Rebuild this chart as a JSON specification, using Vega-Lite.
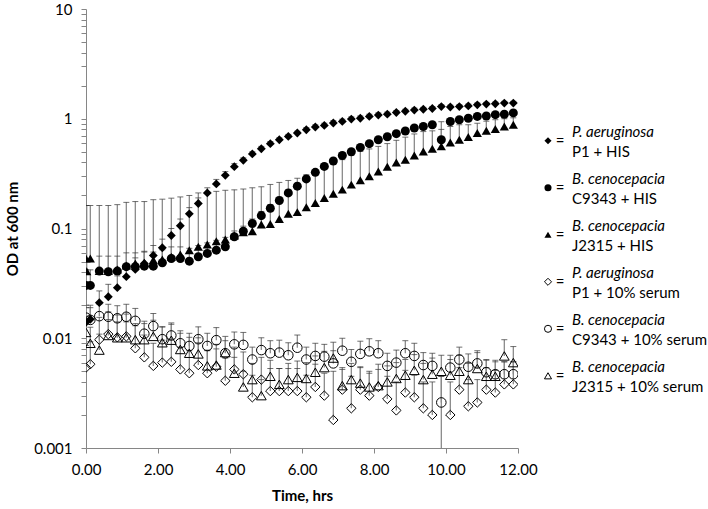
{
"$schema": "https://vega.github.io/schema/vega-lite/v6.json",
"padding": {"left": 5, "top": 2, "right": 0, "bottom": 2},
"config": {"font": "Lato", "view": {"stroke": null}, "concat": {"spacing": 4}},
"datasets": {
"d": [
{"s":"P1H","t":0,"v":0.014,"hi":0.019},{"s":"P1H","t":0.12,"v":0.0149,"hi":0.020},{"s":"P1H","t":0.37,"v":0.0211,"hi":0.027},{"s":"P1H","t":0.62,"v":0.0239,"hi":0.031},{"s":"P1H","t":0.87,"v":0.0289,"hi":0.037},{"s":"P1H","t":1.12,"v":0.0364,"hi":0.047},{"s":"P1H","t":1.37,"v":0.0424,"hi":0.054},{"s":"P1H","t":1.62,"v":0.0481,"hi":0.062},{"s":"P1H","t":1.87,"v":0.0569,"hi":0.070},{"s":"P1H","t":2.12,"v":0.0668,"hi":0.080},{"s":"P1H","t":2.37,"v":0.0863,"hi":0.100},{"s":"P1H","t":2.62,"v":0.106,"hi":0.122},{"s":"P1H","t":2.87,"v":0.136,"hi":0.155},{"s":"P1H","t":3.12,"v":0.169,"hi":0.19},{"s":"P1H","t":3.37,"v":0.211,"hi":0.235},{"s":"P1H","t":3.62,"v":0.255,"hi":0.28},{"s":"P1H","t":3.87,"v":0.305,"hi":0.33},{"s":"P1H","t":4.12,"v":0.366,"hi":0.39},{"s":"P1H","t":4.37,"v":0.418,"hi":0.44},{"s":"P1H","t":4.62,"v":0.478,"hi":0.50},{"s":"P1H","t":4.87,"v":0.533,"hi":0.56},{"s":"P1H","t":5.12,"v":0.593,"hi":0.62},{"s":"P1H","t":5.37,"v":0.644,"hi":0.67},{"s":"P1H","t":5.62,"v":0.690,"hi":0.72},{"s":"P1H","t":5.87,"v":0.741,"hi":0.77},{"s":"P1H","t":6.12,"v":0.794,"hi":0.83},{"s":"P1H","t":6.37,"v":0.841,"hi":0.88},{"s":"P1H","t":6.62,"v":0.869,"hi":0.91},{"s":"P1H","t":6.87,"v":0.914,"hi":0.96},{"s":"P1H","t":7.12,"v":0.945,"hi":0.99},{"s":"P1H","t":7.37,"v":0.993,"hi":1.04},{"s":"P1H","t":7.62,"v":1.01,"hi":1.06},{"s":"P1H","t":7.87,"v":1.05,"hi":1.10},{"s":"P1H","t":8.12,"v":1.08,"hi":1.13},{"s":"P1H","t":8.37,"v":1.10,"hi":1.15},{"s":"P1H","t":8.62,"v":1.14,"hi":1.19},{"s":"P1H","t":8.87,"v":1.17,"hi":1.22},{"s":"P1H","t":9.12,"v":1.20,"hi":1.25},{"s":"P1H","t":9.37,"v":1.22,"hi":1.27},{"s":"P1H","t":9.62,"v":1.24,"hi":1.29},{"s":"P1H","t":9.87,"v":1.29,"hi":1.34},{"s":"P1H","t":10.12,"v":1.28,"hi":1.33},{"s":"P1H","t":10.37,"v":1.29,"hi":1.34},{"s":"P1H","t":10.62,"v":1.31,"hi":1.36},{"s":"P1H","t":10.87,"v":1.34,"hi":1.39},{"s":"P1H","t":11.12,"v":1.36,"hi":1.41},{"s":"P1H","t":11.37,"v":1.37,"hi":1.42},{"s":"P1H","t":11.62,"v":1.39,"hi":1.44},{"s":"P1H","t":11.87,"v":1.39,"hi":1.44},
{"s":"C9H","t":0,"v":0.0303,"hi":0.042},{"s":"C9H","t":0.12,"v":0.0303,"hi":0.042},{"s":"C9H","t":0.37,"v":0.0409,"hi":0.056},{"s":"C9H","t":0.62,"v":0.0404,"hi":0.056},{"s":"C9H","t":0.87,"v":0.0409,"hi":0.056},{"s":"C9H","t":1.12,"v":0.0449,"hi":0.060},{"s":"C9H","t":1.37,"v":0.0449,"hi":0.060},{"s":"C9H","t":1.62,"v":0.0454,"hi":0.061},{"s":"C9H","t":1.87,"v":0.0454,"hi":0.061},{"s":"C9H","t":2.12,"v":0.0487,"hi":0.064},{"s":"C9H","t":2.37,"v":0.0533,"hi":0.068},{"s":"C9H","t":2.62,"v":0.0533,"hi":0.068},{"s":"C9H","t":2.87,"v":0.0504,"hi":0.066},{"s":"C9H","t":3.12,"v":0.0553,"hi":0.070},{"s":"C9H","t":3.37,"v":0.0593,"hi":0.074},{"s":"C9H","t":3.62,"v":0.0635,"hi":0.078},{"s":"C9H","t":3.87,"v":0.0682,"hi":0.083},{"s":"C9H","t":4.12,"v":0.0841,"hi":0.095},{"s":"C9H","t":4.37,"v":0.0945,"hi":0.105},{"s":"C9H","t":4.62,"v":0.111,"hi":0.122},{"s":"C9H","t":4.87,"v":0.131,"hi":0.143},{"s":"C9H","t":5.12,"v":0.153,"hi":0.165},{"s":"C9H","t":5.37,"v":0.180,"hi":0.193},{"s":"C9H","t":5.62,"v":0.211,"hi":0.225},{"s":"C9H","t":5.87,"v":0.243,"hi":0.258},{"s":"C9H","t":6.12,"v":0.283,"hi":0.30},{"s":"C9H","t":6.37,"v":0.325,"hi":0.34},{"s":"C9H","t":6.62,"v":0.368,"hi":0.385},{"s":"C9H","t":6.87,"v":0.412,"hi":0.43},{"s":"C9H","t":7.12,"v":0.463,"hi":0.48},{"s":"C9H","t":7.37,"v":0.501,"hi":0.52},{"s":"C9H","t":7.62,"v":0.548,"hi":0.57},{"s":"C9H","t":7.87,"v":0.593,"hi":0.615},{"s":"C9H","t":8.12,"v":0.644,"hi":0.665},{"s":"C9H","t":8.37,"v":0.686,"hi":0.71},{"s":"C9H","t":8.62,"v":0.731,"hi":0.755},{"s":"C9H","t":8.87,"v":0.773,"hi":0.80},{"s":"C9H","t":9.12,"v":0.823,"hi":0.85},{"s":"C9H","t":9.37,"v":0.851,"hi":0.88},{"s":"C9H","t":9.62,"v":0.882,"hi":0.91},{"s":"C9H","t":9.87,"v":0.644,"hi":0.94},{"s":"C9H","t":10.12,"v":0.945,"hi":0.975},{"s":"C9H","t":10.37,"v":0.979,"hi":1.01},{"s":"C9H","t":10.62,"v":1.01,"hi":1.04},{"s":"C9H","t":10.87,"v":1.05,"hi":1.08},{"s":"C9H","t":11.12,"v":1.06,"hi":1.09},{"s":"C9H","t":11.37,"v":1.09,"hi":1.12},{"s":"C9H","t":11.62,"v":1.10,"hi":1.13},{"s":"C9H","t":11.87,"v":1.13,"hi":1.16},
{"s":"J2H","t":0,"v":0.0533,"hi":0.162},{"s":"J2H","t":0.02,"v":0.0408,"hi":0.162},{"s":"J2H","t":0.12,"v":0.0533,"hi":0.162},{"s":"J2H","t":0.37,"v":0.0409,"hi":0.162},{"s":"J2H","t":0.62,"v":0.0409,"hi":0.162},{"s":"J2H","t":0.87,"v":0.0424,"hi":0.165},{"s":"J2H","t":1.12,"v":0.0461,"hi":0.173},{"s":"J2H","t":1.37,"v":0.0481,"hi":0.176},{"s":"J2H","t":1.62,"v":0.0488,"hi":0.176},{"s":"J2H","t":1.87,"v":0.0515,"hi":0.183},{"s":"J2H","t":2.12,"v":0.0523,"hi":0.185},{"s":"J2H","t":2.37,"v":0.0553,"hi":0.189},{"s":"J2H","t":2.62,"v":0.0580,"hi":0.194},{"s":"J2H","t":2.87,"v":0.0635,"hi":0.200},{"s":"J2H","t":3.12,"v":0.0682,"hi":0.211},{"s":"J2H","t":3.37,"v":0.0716,"hi":0.214},{"s":"J2H","t":3.62,"v":0.0767,"hi":0.218},{"s":"J2H","t":3.87,"v":0.0794,"hi":0.223},{"s":"J2H","t":4.12,"v":0.0863,"hi":0.225},{"s":"J2H","t":4.37,"v":0.0925,"hi":0.229},{"s":"J2H","t":4.62,"v":0.0945,"hi":0.235},{"s":"J2H","t":4.87,"v":0.109,"hi":0.240},{"s":"J2H","t":5.12,"v":0.110,"hi":0.252},{"s":"J2H","t":5.37,"v":0.122,"hi":0.263},{"s":"J2H","t":5.62,"v":0.136,"hi":0.274},{"s":"J2H","t":5.87,"v":0.141,"hi":0.287},{"s":"J2H","t":6.12,"v":0.156,"hi":0.309},{"s":"J2H","t":6.37,"v":0.171,"hi":0.338},{"s":"J2H","t":6.62,"v":0.190,"hi":0.355},{"s":"J2H","t":6.87,"v":0.207,"hi":0.39},{"s":"J2H","t":7.12,"v":0.226,"hi":0.424},{"s":"J2H","t":7.37,"v":0.251,"hi":0.464},{"s":"J2H","t":7.62,"v":0.275,"hi":0.503},{"s":"J2H","t":7.87,"v":0.299,"hi":0.531},{"s":"J2H","t":8.12,"v":0.330,"hi":0.56},{"s":"J2H","t":8.37,"v":0.365,"hi":0.594},{"s":"J2H","t":8.62,"v":0.400,"hi":0.636},{"s":"J2H","t":8.87,"v":0.424,"hi":0.68},{"s":"J2H","t":9.12,"v":0.463,"hi":0.727},{"s":"J2H","t":9.37,"v":0.504,"hi":0.764},{"s":"J2H","t":9.62,"v":0.533,"hi":0.776},{"s":"J2H","t":9.87,"v":0.560,"hi":0.80},{"s":"J2H","t":10.12,"v":0.609,"hi":0.85},{"s":"J2H","t":10.37,"v":0.644,"hi":0.882},{"s":"J2H","t":10.62,"v":0.682,"hi":0.882},{"s":"J2H","t":10.87,"v":0.741,"hi":0.91},{"s":"J2H","t":11.12,"v":0.778,"hi":0.95},{"s":"J2H","t":11.37,"v":0.806,"hi":0.98},{"s":"J2H","t":11.62,"v":0.851,"hi":1.0},{"s":"J2H","t":11.87,"v":0.882,"hi":1.02},
{"s":"P1S","t":0,"v":0.0054,"hi":0.0086},{"s":"P1S","t":0.12,"v":0.0058,"hi":0.0093},{"s":"P1S","t":0.37,"v":0.0097,"hi":0.0155},{"s":"P1S","t":0.62,"v":0.0109,"hi":0.0174},{"s":"P1S","t":0.87,"v":0.0102,"hi":0.0163},{"s":"P1S","t":1.12,"v":0.0104,"hi":0.0166},{"s":"P1S","t":1.37,"v":0.0081,"hi":0.0130},{"s":"P1S","t":1.62,"v":0.0067,"hi":0.0107},{"s":"P1S","t":1.87,"v":0.0056,"hi":0.0090},{"s":"P1S","t":2.12,"v":0.0060,"hi":0.0096},{"s":"P1S","t":2.37,"v":0.0061,"hi":0.0098},{"s":"P1S","t":2.62,"v":0.0052,"hi":0.0083},{"s":"P1S","t":2.87,"v":0.0048,"hi":0.0077},{"s":"P1S","t":3.12,"v":0.0057,"hi":0.0091},{"s":"P1S","t":3.37,"v":0.0048,"hi":0.0077},{"s":"P1S","t":3.62,"v":0.0055,"hi":0.0088},{"s":"P1S","t":3.87,"v":0.0041,"hi":0.0066},{"s":"P1S","t":4.12,"v":0.0052,"hi":0.0083},{"s":"P1S","t":4.37,"v":0.0047,"hi":0.0075},{"s":"P1S","t":4.62,"v":0.0029,"hi":0.0046},{"s":"P1S","t":4.87,"v":0.0042,"hi":0.0067},{"s":"P1S","t":5.12,"v":0.0033,"hi":0.0053},{"s":"P1S","t":5.37,"v":0.0033,"hi":0.0053},{"s":"P1S","t":5.62,"v":0.0033,"hi":0.0053},{"s":"P1S","t":5.87,"v":0.0033,"hi":0.0053},{"s":"P1S","t":6.12,"v":0.0029,"hi":0.0046},{"s":"P1S","t":6.37,"v":0.0036,"hi":0.0058},{"s":"P1S","t":6.62,"v":0.0030,"hi":0.0048},{"s":"P1S","t":6.87,"v":0.0018,"hi":0.0050},{"s":"P1S","t":7.12,"v":0.0034,"hi":0.0054},{"s":"P1S","t":7.37,"v":0.0023,"hi":0.0045},{"s":"P1S","t":7.62,"v":0.0034,"hi":0.0054},{"s":"P1S","t":7.87,"v":0.0030,"hi":0.0048},{"s":"P1S","t":8.12,"v":0.0036,"hi":0.0058},{"s":"P1S","t":8.37,"v":0.0028,"hi":0.0045},{"s":"P1S","t":8.62,"v":0.0022,"hi":0.0040},{"s":"P1S","t":8.87,"v":0.0032,"hi":0.0051},{"s":"P1S","t":9.12,"v":0.0029,"hi":0.0046},{"s":"P1S","t":9.37,"v":0.0023,"hi":0.0040},{"s":"P1S","t":9.62,"v":0.0020,"hi":0.0040},{"s":"P1S","t":9.87,"v":0.0008,"hi":0.0045},{"s":"P1S","t":10.12,"v":0.0020,"hi":0.0040},{"s":"P1S","t":10.37,"v":0.0034,"hi":0.0054},{"s":"P1S","t":10.62,"v":0.0024,"hi":0.0042},{"s":"P1S","t":10.87,"v":0.0026,"hi":0.0042},{"s":"P1S","t":11.12,"v":0.0034,"hi":0.0054},{"s":"P1S","t":11.37,"v":0.0032,"hi":0.0051},{"s":"P1S","t":11.62,"v":0.0038,"hi":0.0061},{"s":"P1S","t":11.87,"v":0.0038,"hi":0.0061},
{"s":"C9S","t":0,"v":0.0154,"hi":0.020},{"s":"C9S","t":0.12,"v":0.0147,"hi":0.019},{"s":"C9S","t":0.37,"v":0.0159,"hi":0.0205},{"s":"C9S","t":0.62,"v":0.0157,"hi":0.0204},{"s":"C9S","t":0.87,"v":0.0152,"hi":0.0198},{"s":"C9S","t":1.12,"v":0.0157,"hi":0.0204},{"s":"C9S","t":1.37,"v":0.0144,"hi":0.0187},{"s":"C9S","t":1.62,"v":0.0110,"hi":0.0143},{"s":"C9S","t":1.87,"v":0.0129,"hi":0.0168},{"s":"C9S","t":2.12,"v":0.0098,"hi":0.0127},{"s":"C9S","t":2.37,"v":0.0106,"hi":0.0138},{"s":"C9S","t":2.62,"v":0.0090,"hi":0.0117},{"s":"C9S","t":2.87,"v":0.0085,"hi":0.0111},{"s":"C9S","t":3.12,"v":0.0098,"hi":0.0127},{"s":"C9S","t":3.37,"v":0.0085,"hi":0.0111},{"s":"C9S","t":3.62,"v":0.0096,"hi":0.0125},{"s":"C9S","t":3.87,"v":0.0073,"hi":0.0095},{"s":"C9S","t":4.12,"v":0.0088,"hi":0.0114},{"s":"C9S","t":4.37,"v":0.0087,"hi":0.0113},{"s":"C9S","t":4.62,"v":0.0064,"hi":0.0083},{"s":"C9S","t":4.87,"v":0.0078,"hi":0.0101},{"s":"C9S","t":5.12,"v":0.0073,"hi":0.0095},{"s":"C9S","t":5.37,"v":0.0074,"hi":0.0096},{"s":"C9S","t":5.62,"v":0.0070,"hi":0.0091},{"s":"C9S","t":5.87,"v":0.0082,"hi":0.0107},{"s":"C9S","t":6.12,"v":0.0064,"hi":0.0083},{"s":"C9S","t":6.37,"v":0.0069,"hi":0.0090},{"s":"C9S","t":6.62,"v":0.0068,"hi":0.0088},{"s":"C9S","t":6.87,"v":0.0059,"hi":0.0077},{"s":"C9S","t":7.12,"v":0.0077,"hi":0.0100},{"s":"C9S","t":7.37,"v":0.0061,"hi":0.0079},{"s":"C9S","t":7.62,"v":0.0072,"hi":0.0094},{"s":"C9S","t":7.87,"v":0.0076,"hi":0.0099},{"s":"C9S","t":8.12,"v":0.0073,"hi":0.0095},{"s":"C9S","t":8.37,"v":0.0056,"hi":0.0073},{"s":"C9S","t":8.62,"v":0.0060,"hi":0.0078},{"s":"C9S","t":8.87,"v":0.0073,"hi":0.0095},{"s":"C9S","t":9.12,"v":0.0069,"hi":0.0090},{"s":"C9S","t":9.37,"v":0.0057,"hi":0.0074},{"s":"C9S","t":9.62,"v":0.0056,"hi":0.0073},{"s":"C9S","t":9.87,"v":0.0026,"hi":0.0045},{"s":"C9S","t":10.12,"v":0.0054,"hi":0.0070},{"s":"C9S","t":10.37,"v":0.0064,"hi":0.0083},{"s":"C9S","t":10.62,"v":0.0055,"hi":0.0072},{"s":"C9S","t":10.87,"v":0.0059,"hi":0.0077},{"s":"C9S","t":11.12,"v":0.0049,"hi":0.0064},{"s":"C9S","t":11.37,"v":0.0047,"hi":0.0061},{"s":"C9S","t":11.62,"v":0.0047,"hi":0.0061},{"s":"C9S","t":11.87,"v":0.0047,"hi":0.0061},
{"s":"J2S","t":0,"v":0.0113,"hi":0.0158},{"s":"J2S","t":0.12,"v":0.0090,"hi":0.0126},{"s":"J2S","t":0.37,"v":0.0078,"hi":0.0109},{"s":"J2S","t":0.62,"v":0.0106,"hi":0.0148},{"s":"J2S","t":0.87,"v":0.0101,"hi":0.0141},{"s":"J2S","t":1.12,"v":0.0101,"hi":0.0141},{"s":"J2S","t":1.37,"v":0.0097,"hi":0.0136},{"s":"J2S","t":1.62,"v":0.0097,"hi":0.0136},{"s":"J2S","t":1.87,"v":0.0104,"hi":0.0146},{"s":"J2S","t":2.12,"v":0.0091,"hi":0.0127},{"s":"J2S","t":2.37,"v":0.0096,"hi":0.0134},{"s":"J2S","t":2.62,"v":0.0079,"hi":0.0111},{"s":"J2S","t":2.87,"v":0.0073,"hi":0.0102},{"s":"J2S","t":3.12,"v":0.0072,"hi":0.0101},{"s":"J2S","t":3.37,"v":0.0056,"hi":0.0078},{"s":"J2S","t":3.62,"v":0.0057,"hi":0.0080},{"s":"J2S","t":3.87,"v":0.0074,"hi":0.0104},{"s":"J2S","t":4.12,"v":0.0048,"hi":0.0067},{"s":"J2S","t":4.37,"v":0.0036,"hi":0.0050},{"s":"J2S","t":4.62,"v":0.0042,"hi":0.0059},{"s":"J2S","t":4.87,"v":0.0030,"hi":0.0042},{"s":"J2S","t":5.12,"v":0.0045,"hi":0.0063},{"s":"J2S","t":5.37,"v":0.0038,"hi":0.0053},{"s":"J2S","t":5.62,"v":0.0042,"hi":0.0059},{"s":"J2S","t":5.87,"v":0.0044,"hi":0.0062},{"s":"J2S","t":6.12,"v":0.0043,"hi":0.0060},{"s":"J2S","t":6.37,"v":0.0049,"hi":0.0069},{"s":"J2S","t":6.62,"v":0.0054,"hi":0.0076},{"s":"J2S","t":6.87,"v":0.0066,"hi":0.0092},{"s":"J2S","t":7.12,"v":0.0037,"hi":0.0052},{"s":"J2S","t":7.37,"v":0.0042,"hi":0.0059},{"s":"J2S","t":7.62,"v":0.0039,"hi":0.0055},{"s":"J2S","t":7.87,"v":0.0036,"hi":0.0050},{"s":"J2S","t":8.12,"v":0.0037,"hi":0.0052},{"s":"J2S","t":8.37,"v":0.0040,"hi":0.0056},{"s":"J2S","t":8.62,"v":0.0043,"hi":0.0060},{"s":"J2S","t":8.87,"v":0.0046,"hi":0.0064},{"s":"J2S","t":9.12,"v":0.0051,"hi":0.0071},{"s":"J2S","t":9.37,"v":0.0042,"hi":0.0059},{"s":"J2S","t":9.62,"v":0.0047,"hi":0.0066},{"s":"J2S","t":9.87,"v":0.0050,"hi":0.0070},{"s":"J2S","t":10.12,"v":0.0046,"hi":0.0064},{"s":"J2S","t":10.37,"v":0.0050,"hi":0.0070},{"s":"J2S","t":10.62,"v":0.0042,"hi":0.0059},{"s":"J2S","t":10.87,"v":0.0053,"hi":0.0074},{"s":"J2S","t":11.12,"v":0.0045,"hi":0.0063},{"s":"J2S","t":11.37,"v":0.0045,"hi":0.0063},{"s":"J2S","t":11.62,"v":0.0069,"hi":0.0097},{"s":"J2S","t":11.87,"v":0.0060,"hi":0.0084}
],
"leg": [
{"s":"P1H","l1":"P. aeruginosa","l2":"P1 + HIS"},
{"s":"C9H","l1":"B. cenocepacia","l2":"C9343 + HIS"},
{"s":"J2H","l1":"B. cenocepacia","l2":"J2315 + HIS"},
{"s":"P1S","l1":"P. aeruginosa","l2":"P1 + 10% serum"},
{"s":"C9S","l1":"B. cenocepacia","l2":"C9343 + 10% serum"},
{"s":"J2S","l1":"B. cenocepacia","l2":"J2315 + 10% serum"}
]
},
"hconcat": [
{
"width": 432, "height": 439,
"data": {"name": "d"},
"layer": [
{"mark": {"type": "rule", "color": "#8a8a8a", "strokeWidth": 1.3, "clip": true},
 "encoding": {
  "x": {"field": "t", "type": "quantitative", "scale": {"domain": [0, 12], "nice": false},
   "axis": {"values": [0,2,4,6,8,10,12], "format": ".2f", "title": "Time, hrs", "grid": false, "tickSize": 5, "labelPadding": 9, "labelFontSize": 15, "labelColor": "#000", "labelFlush": false, "titleFontSize": 15, "titleFontWeight": "bold", "titleColor": "#000", "titlePadding": 11, "domainColor": "#868686", "tickColor": "#868686"}},
  "y": {"field": "v", "type": "quantitative", "scale": {"type": "log", "domain": [0.001, 10], "nice": false},
   "axis": {"values": [0.001,0.002,0.003,0.004,0.005,0.006,0.007,0.008,0.009,0.01,0.02,0.03,0.04,0.05,0.06,0.07,0.08,0.09,0.1,0.2,0.3,0.4,0.5,0.6,0.7,0.8,0.9,1,2,3,4,5,6,7,8,9,10],
    "labelExpr": "indexof([0.001,0.01,0.1,1,10], datum.value) >= 0 ? format(datum.value, '~g') : ''",
    "title": "OD at 600 nm", "grid": false, "tickSize": 5, "labelPadding": 9, "labelFontSize": 15, "labelColor": "#000", "labelFlush": false, "labelOverlap": false, "titleFontSize": 15, "titleFontWeight": "bold", "titleColor": "#000", "titlePadding": 13, "domainColor": "#868686", "tickColor": "#868686"}},
  "y2": {"field": "hi"}
 }},
{"mark": {"type": "tick", "orient": "horizontal", "color": "#333333", "size": 6, "thickness": 1, "clip": true},
 "encoding": {
  "x": {"field": "t", "type": "quantitative"},
  "y": {"field": "hi", "type": "quantitative", "title": "OD at 600 nm"}
 }},
{"transform": [{"filter": {"field": "s", "oneOf": ["P1H", "C9H", "J2H"]}}],
 "mark": {"type": "point", "filled": true, "color": "#000000", "opacity": 1, "clip": true},
 "encoding": {
  "x": {"field": "t", "type": "quantitative"},
  "y": {"field": "v", "type": "quantitative", "title": "OD at 600 nm"},
  "shape": {"field": "s", "type": "nominal", "scale": {"domain": ["P1H","C9H","J2H","P1S","C9S","J2S"], "range": ["diamond","circle","triangle-up","diamond","circle","triangle-up"]}, "legend": null},
  "size": {"field": "s", "type": "ordinal", "scale": {"domain": ["P1H","C9H","J2H","P1S","C9S","J2S"], "range": [78, 95, 100, 105, 120, 110]}, "legend": null}
 }},
{"transform": [{"filter": {"field": "s", "oneOf": ["P1S", "C9S", "J2S"]}}],
 "mark": {"type": "point", "filled": false, "color": "#000000", "strokeWidth": 1, "opacity": 1, "clip": true},
 "encoding": {
  "x": {"field": "t", "type": "quantitative"},
  "y": {"field": "v", "type": "quantitative", "title": "OD at 600 nm"},
  "shape": {"field": "s", "type": "nominal", "legend": null},
  "size": {"field": "s", "type": "ordinal", "legend": null}
 }}
]
},
{
"width": 160, "height": 439,
"data": {"name": "leg"},
"encoding": {
 "y": {"field": "s", "type": "nominal", "scale": {"type": "point", "domain": ["_a", "_b", "P1H", "C9H", "J2H", "P1S", "C9S", "J2S", "_c"], "padding": 0.67, "align": 0.6}, "axis": null}
},
"layer": [
{"transform": [{"filter": {"field": "s", "oneOf": ["P1H", "C9H", "J2H"]}}],
 "mark": {"type": "point", "filled": true, "color": "#000000", "opacity": 1, "size": 50},
 "encoding": {
  "x": {"datum": 5, "type": "quantitative", "scale": {"domain": [0, 160], "nice": false}, "axis": null},
  "shape": {"field": "s", "type": "nominal", "scale": {"domain": ["P1H","C9H","J2H","P1S","C9S","J2S"], "range": ["diamond","circle","triangle-up","diamond","circle","triangle-up"]}, "legend": null}
 }},
{"transform": [{"filter": {"field": "s", "oneOf": ["P1S", "C9S", "J2S"]}}],
 "mark": {"type": "point", "filled": false, "color": "#000000", "strokeWidth": 1, "opacity": 1, "size": 50},
 "encoding": {
  "x": {"datum": 5, "type": "quantitative"},
  "shape": {"field": "s", "type": "nominal", "legend": null}
 }},
{"mark": {"type": "text", "fontSize": 15, "font": "Lato", "color": "#000", "align": "center", "baseline": "middle"},
 "encoding": {"x": {"datum": 17, "type": "quantitative"}, "text": {"value": "="}}},
{"mark": {"type": "text", "fontSize": 15, "font": "Lato", "fontStyle": "italic", "color": "#000", "align": "left", "baseline": "middle", "dy": -9},
 "encoding": {"x": {"datum": 29, "type": "quantitative"}, "text": {"field": "l1"}}},
{"mark": {"type": "text", "fontSize": 15, "font": "Lato", "color": "#000", "align": "left", "baseline": "middle", "dy": 11},
 "encoding": {"x": {"datum": 29, "type": "quantitative"}, "text": {"field": "l2"}}}
]
}
]
}
